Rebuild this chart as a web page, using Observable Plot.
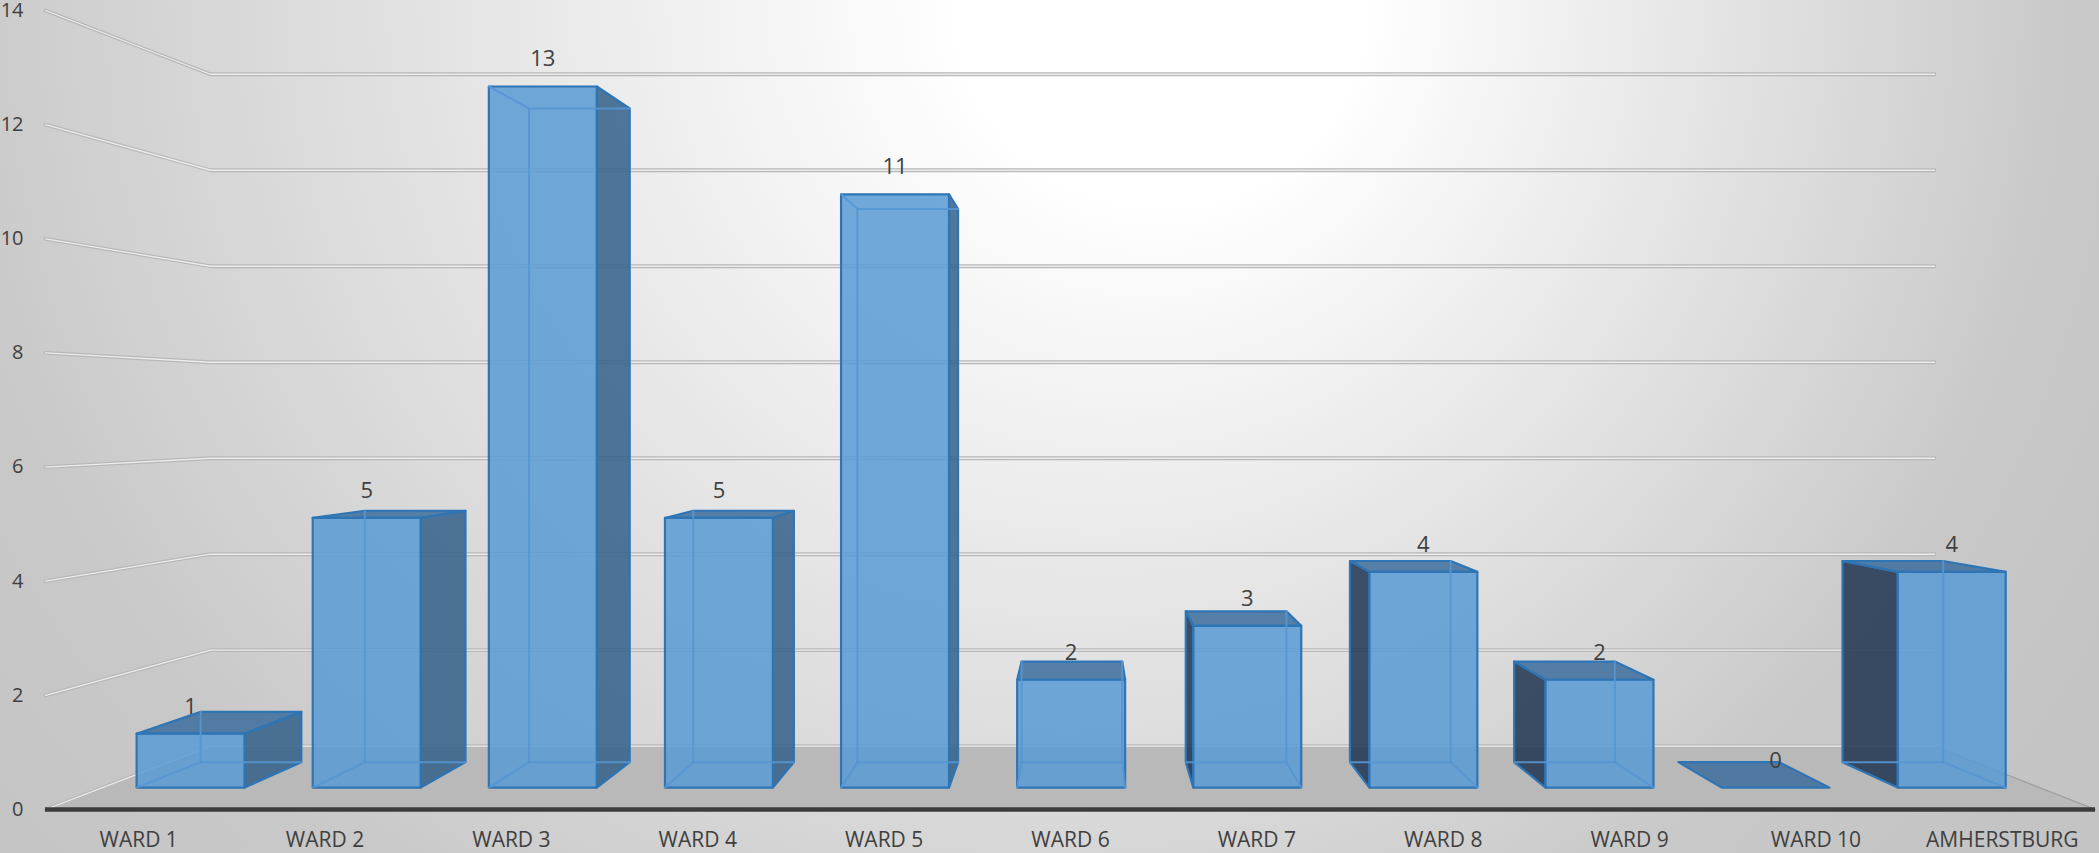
<!DOCTYPE html>
<html><head><meta charset="utf-8">
<script src="https://cdn.jsdelivr.net/npm/d3@7"></script>
<script src="https://cdn.jsdelivr.net/npm/@observablehq/plot@0.6"></script>
<style>
html,body{margin:0;padding:0;background:#d0d0d0;overflow:hidden;}
#chart svg{display:block;}
</style></head><body><div id="chart"></div>
<script>
// ---- data ----
const categories = ["WARD 1","WARD 2","WARD 3","WARD 4","WARD 5","WARD 6","WARD 7","WARD 8","WARD 9","WARD 10","AMHERSTBURG"];
const counts = [1, 5, 13, 5, 11, 2, 3, 4, 2, 0, 4];
const yTicks = [0, 2, 4, 6, 8, 10, 12, 14];

// ---- perspective (vanishing point expressed in data units) ----
const VX = 5.564, VY = 6.974;
const S_WALL = 0.841, SF = 0.945, SB = 0.881, HALF = 0.3065;
const N = categories.length;
const proj = (x, v, s) => ({x: VX + (x - VX) * s, y: VY + (v - VY) * s});

// floor, walls
const floor = [proj(0,0,1), proj(N,0,1), proj(N,0,S_WALL), proj(0,0,S_WALL)].map(p => ({...p, id: "floor"}));
const floorRight = [proj(N,0,1), proj(N,0,S_WALL)].map(p => ({...p, id: "fr"}));
const grid = [];
yTicks.forEach(t => {
  [proj(0,t,1), proj(0,t,S_WALL), proj(N,t,S_WALL)].forEach(p => grid.push({...p, id: t}));
});

// bars
const rightSides = [], leftSides = [], tops = [], fronts = [], hidden = [], labels = [];
counts.forEach((v, i) => {
  const xl = i + 0.5 - HALF, xr = i + 0.5 + HALF;
  const P = {
    fLB: proj(xl,0,SF), fRB: proj(xr,0,SF), fLT: proj(xl,v,SF), fRT: proj(xr,v,SF),
    bLB: proj(xl,0,SB), bRB: proj(xr,0,SB), bLT: proj(xl,v,SB), bRT: proj(xr,v,SB)
  };
  const poly = (arr, keys, tag) => keys.forEach(k => arr.push({...P[k], id: i + tag}));
  labels.push({...proj(i + 0.5, v, SF), text: String(v)});
  if (v === 0) { poly(tops, ["fLB","fRB","bRB","bLB"], "t"); return; }
  const vis = new Set(["fLB-fRB","fRB-fRT","fRT-fLT","fLT-fLB"]);
  if (xr < VX) { poly(rightSides, ["fRB","bRB","bRT","fRT"], "r"); ["fRB-bRB","bRB-bRT","bRT-fRT"].forEach(e => vis.add(e)); }
  if (xl > VX) { poly(leftSides, ["fLB","bLB","bLT","fLT"], "l"); ["fLB-bLB","bLB-bLT","bLT-fLT"].forEach(e => vis.add(e)); }
  if (v < VY) { poly(tops, ["fLT","fRT","bRT","bLT"], "t"); ["fLT-bLT","bLT-bRT","bRT-fRT"].forEach(e => vis.add(e)); }
  poly(fronts, ["fLB","fRB","fRT","fLT"], "f");
  const all = [["bLB","bRB"],["bLB","bLT"],["bRB","bRT"],["bLT","bRT"],["fLB","bLB"],["fRB","bRB"],["fLT","bLT"],["fRT","bRT"]];
  all.forEach(([a,b], k) => {
    if (vis.has(a+"-"+b) || vis.has(b+"-"+a)) return;
    hidden.push({...P[a], id: i+"h"+k}); hidden.push({...P[b], id: i+"h"+k});
  });
});

const face = (data, fill, op) => Plot.line(data, {x: "x", y: "y", z: "id", curve: "linear-closed",
  fill, fillOpacity: op, stroke: "#2e75b6", strokeWidth: 2.2, strokeLinejoin: "round"});

const chart = Plot.plot({
  width: 2099, height: 853,
  marginLeft: 45, marginRight: 4, marginTop: 10, marginBottom: 44,
  x: {domain: [0, N], axis: null},
  y: {domain: [0, 14], axis: null},
  style: {background: "transparent", fontFamily: "'Open Sans', sans-serif", overflow: "visible"},
  marks: [
    Plot.line(floor, {x: "x", y: "y", z: "id", curve: "linear-closed", fill: "#b9b9b9", stroke: "none"}),
    Plot.line(floorRight, {x: "x", y: "y", z: "id", stroke: "#9c9c9c", strokeWidth: 1.2}),
    Plot.line(grid, {x: "x", y: "y", z: "id", stroke: "#b8b8b8", strokeWidth: 3.8, strokeLinecap: "round"}),
    Plot.line(grid, {x: "x", y: "y", z: "id", stroke: "#ececec", strokeWidth: 1.3, strokeLinecap: "round"}),
    Plot.ruleY([0], {stroke: "#3c3c3c", strokeWidth: 4.5}),
    face(rightSides, "#335f8a", 0.85),
    face(leftSides, "#1f3650", 0.86),
    face(tops, "#3d6d9c", 0.85),
    face(fronts, "#5b9bd5", 0.86),
    Plot.line(hidden, {x: "x", y: "y", z: "id", stroke: "#5596d2", strokeWidth: 2, strokeOpacity: 0.9}),
    Plot.text(labels, {x: "x", y: "y", text: "text", lineAnchor: "bottom", dy: -20, fontSize: 22, fill: "#404040"}),
    Plot.text(yTicks, {x: 0, y: d => d, text: d => String(d), textAnchor: "end", dx: -22, fontSize: 20, fill: "#404040"}),
    Plot.text(categories, {x: (d, i) => i + 0.5, y: 0, text: d => d, lineAnchor: "bottom", dy: 37.7, fontSize: 21, fill: "#404040"})
  ]
});

// background gradient
const svg = d3.select(chart);
svg.insert("rect", ":first-child").attr("x", 0).attr("y", 0).attr("width", 2099).attr("height", 853).attr("fill", "url(#bgGrad)");
const defs = svg.insert("defs", ":first-child");
const grad = defs.append("radialGradient").attr("id", "bgGrad").attr("gradientUnits", "userSpaceOnUse")
  .attr("cx", 950).attr("cy", 0).attr("r", 1350).attr("fx", 1200).attr("fy", 0);
grad.append("stop").attr("offset", 0).attr("stop-color", "#ffffff");
grad.append("stop").attr("offset", 0.15).attr("stop-color", "#ffffff");
grad.append("stop").attr("offset", 0.8).attr("stop-color", "#c8c8c8");
grad.append("stop").attr("offset", 1).attr("stop-color", "#c4c4c4");

document.getElementById("chart").appendChild(chart);
</script></body></html>
